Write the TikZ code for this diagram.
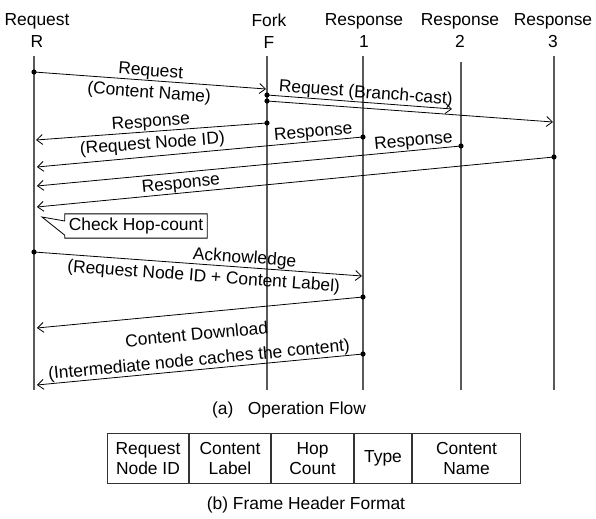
\documentclass[tikz,border=0pt]{standalone}
\usepackage{fontspec}
\setmainfont{Liberation Sans}
\usetikzlibrary{positioning,arrows.meta,shapes.callouts}

\begin{document}
\begin{tikzpicture}[x=0.5pt, y=-0.5pt,
    font=\fontsize{8.7}{11}\selectfont,
    head/.style={align=center, inner sep=0pt},
    life/.style={draw=black!65, line width=0.65pt},
    msg/.style={-{Straight Barb[length=3pt,width=5pt]}, line width=0.4pt},
    lbl/.style={sloped, inner sep=1pt},
    up/.style={above=-0.8pt},
    down/.style={below=1.2pt},
    cell/.style={draw=black!80, line width=0.5pt, align=center, minimum height=25pt, inner sep=0pt, font=\fontsize{8.7}{10}\selectfont}]

    \useasboundingbox (0,0) rectangle (596,519);

    % Headers
    \node [head] (hR) at (37,31) {Request\\R};
    \node [head] (hF) at (269,31) {Fork\\F};
    \node [head] (hS1) at (364,31) {Response\\1};
    \node [head] (hS2) at (460,31) {Response\\2};
    \node [head] (hS3) at (553,31) {Response\\3};

    % Lifelines
    \foreach \n/\x/\t in {R/34/56, F/267/56, S1/363/56, S2/461/62, S3/554/56} {
        \coordinate (\n top) at (\x,\t);
        \coordinate (\n end) at (\x,390);
        \draw [life] (\n top) -- (\n end);
    }

    % Request from R to F
    \coordinate (q1) at (34,72);
    \coordinate (q2) at (266,89);
    \draw [msg] (q1) -- (q2) node[lbl, midway, up] {Request} node[lbl, midway, down] {(Content Name)};

    % Branch-cast from F
    \coordinate (b0) at (267,95);
    \coordinate (b1) at (452,109);
    \coordinate (b2) at (267,101);
    \coordinate (b3) at (553,122);
    \draw [msg] (b0) -- (b1) node[lbl, pos=0.53, up] {Request (Branch-cast)};
    \draw [msg] (b2) -- (b3);

    % Responses back to R
    \coordinate (r0) at (267,123);
    \coordinate (r0e) at (36,140);
    \coordinate (r1) at (363,137);
    \coordinate (r1e) at (37,167);
    \coordinate (r2) at (461,146);
    \coordinate (r2e) at (37,186);
    \coordinate (r3) at (554,157);
    \coordinate (r3e) at (37,207);
    \draw [msg] (r0) -- (r0e) node[lbl, midway, up] {Response} node[lbl, midway, down] {(Request Node ID)};
    \draw [msg] (r1) -- (r1e) node[lbl, pos=0.15, up] {Response};
    \draw [msg] (r2) -- (r2e) node[lbl, pos=0.11, up] {Response};
    \draw [msg] (r3) -- (r3e) node[lbl, pos=0.72, up] {Response};

    % Check Hop-count
    \coordinate (hop tip) at (42,217);
    \node [draw, rectangle callout, callout absolute pointer={(hop tip)}, inner sep=2pt, fill=white] (check) at (136,226) {Check Hop-count};

    % Acknowledge from R to Response 1
    \coordinate (k0) at (34,252);
    \coordinate (k1) at (362,276);
    \draw [msg] (k0) -- (k1) node[lbl, pos=0.64, up] {Acknowledge} node[lbl, pos=0.52, down] {(Request Node ID + Content Label)};

    % Response 1 back to R
    \coordinate (d0) at (363,297);
    \coordinate (d0e) at (37,328);
    \draw [msg] (d0) -- (d0e);

    % Content Download
    \coordinate (d1) at (363,354);
    \coordinate (d1e) at (37,385);
    \draw [msg] (d1) -- (d1e) node[lbl, midway, up, align=center, font=\fontsize{8.7}{12.5}\selectfont] {Content Download\\(Intermediate node caches the content)};

    % Dots
    \foreach \p in {q1,b0,b2,r0,r1,r2,r3,k0,d0,d1}
        \fill (\p) circle[radius=1.3pt];

    \node (capa) at (289,410) {(a)\ \ \ Operation Flow};

    % Frame header
    \node [cell, minimum width=40.5pt, anchor=north west] (nid) at (107,433) {Request\\Node ID};
    \node [cell, minimum width=40.5pt, right=0pt of nid] (lab) {Content\\Label};
    \node [cell, minimum width=41pt, right=0pt of lab] (hop) {Hop\\Count};
    \node [cell, minimum width=28.5pt, right=0pt of hop] (typ) {Type};
    \node [cell, minimum width=54pt, right=0pt of typ] (nam) {Content\\Name};

    \node (capb) at (306,505) {(b) Frame Header Format};

\end{tikzpicture}
\end{document}
